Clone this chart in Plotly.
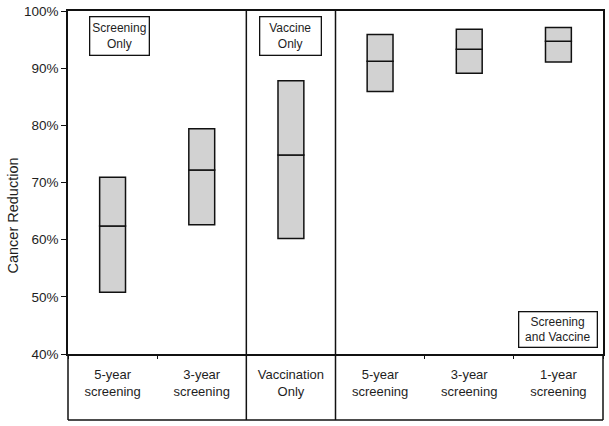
import plotly.graph_objects as go

# ---- data ----
cat_ids = ["s5", "s3", "v", "c5", "c3", "c1"]
cat_labels = ["5-year<br>screening", "3-year<br>screening", "Vaccination<br>Only",
              "5-year<br>screening", "3-year<br>screening", "1-year<br>screening"]
low = [50.8, 62.6, 60.2, 85.9, 89.1, 91.1]
median = [62.4, 72.2, 74.8, 91.2, 93.3, 94.7]
high = [70.9, 79.4, 87.8, 95.9, 96.8, 97.1]
group_boundaries = [1.5, 2.5]  # between category groups
y_ticks = [40, 50, 60, 70, 80, 90, 100]
y_ticklabels = [f"{v}%" for v in y_ticks]

FONT = "Liberation Sans, Arial, sans-serif"
TXT = "#1e1e1e"
LW = 1.5
x_min, x_max = -0.5, len(cat_ids) - 0.5
W, H = 609, 426
ml, mr, mt, mb = 68, 6, 11, 72
plot_h = H - mt - mb
bottom_paper = -(420 - (H - mb)) / plot_h

fig = go.Figure()
fig.add_trace(go.Bar(
    x=cat_ids, base=low, y=[m - l for m, l in zip(median, low)], width=0.29,
    marker=dict(color="#d2d2d2", line=dict(color="#111", width=LW)),
    hoverinfo="skip", showlegend=False))
fig.add_trace(go.Bar(
    x=cat_ids, base=median, y=[h - m for h, m in zip(high, median)], width=0.29,
    marker=dict(color="#d2d2d2", line=dict(color="#111", width=LW)),
    hoverinfo="skip", showlegend=False))

def xp(v):
    return (v - x_min) / (x_max - x_min)

shapes = []
for b in group_boundaries:
    shapes.append(dict(type="line", xref="paper", yref="paper", x0=xp(b), x1=xp(b),
                       y0=bottom_paper, y1=1, line=dict(color="#111", width=LW)))
for xv in (0, 1):
    shapes.append(dict(type="line", xref="paper", yref="paper", x0=xv, x1=xv,
                       y0=bottom_paper, y1=0, line=dict(color="#111", width=LW)))
shapes.append(dict(type="line", xref="paper", yref="paper", x0=0, x1=1,
                   y0=bottom_paper, y1=bottom_paper, line=dict(color="#111", width=LW)))

box_font = dict(family=FONT, size=12, color=TXT)
annotations = [
    dict(x=0.072, y=95.7, xref="x", yref="y", text="Screening<br>Only", showarrow=False,
         font=box_font, bordercolor="#111", borderwidth=1.3, borderpad=1,
         bgcolor="white", width=56, height=35, xanchor="center", yanchor="middle"),
    dict(x=2.0, y=95.7, xref="x", yref="y", text="Vaccine<br>Only", showarrow=False,
         font=box_font, bordercolor="#111", borderwidth=1.3, borderpad=1,
         bgcolor="white", width=58, height=35, xanchor="center", yanchor="middle"),
    dict(x=4.99, y=44.2, xref="x", yref="y", text="Screening<br>and Vaccine", showarrow=False,
         font=box_font, bordercolor="#111", borderwidth=1.3, borderpad=1,
         bgcolor="white", width=75, height=32, xanchor="center", yanchor="middle"),
    dict(x=(12 - ml) / (W - ml - mr), y=((H - mb) - 215.5) / plot_h, xref="paper", yref="paper",
         text="Cancer Reduction", textangle=-90, showarrow=False,
         xanchor="center", yanchor="middle",
         font=dict(family=FONT, size=14.5, color=TXT)),
]

fig.update_layout(
    width=W, height=H, margin=dict(l=ml, r=mr, t=mt, b=mb, autoexpand=False),
    plot_bgcolor="white", paper_bgcolor="white", barmode="overlay",
    shapes=shapes, annotations=annotations, showlegend=False,
    font=dict(family=FONT, color=TXT),
)
fig.update_xaxes(
    type="category", categoryorder="array", categoryarray=cat_ids,
    range=[x_min, x_max], tickmode="array", tickvals=cat_ids, ticktext=cat_labels,
    tickson="boundaries", ticks="outside", ticklen=3, tickwidth=1.2, tickcolor="#111",
    showline=True, mirror=True, linecolor="#111", linewidth=LW, showgrid=False,
    tickfont=dict(family=FONT, size=13, color=TXT), ticklabelstandoff=8, automargin=False,
)
fig.update_yaxes(
    range=[40, 100], tickmode="array", tickvals=y_ticks, ticktext=y_ticklabels,
    ticks="outside", ticklen=5, tickwidth=1.3, tickcolor="#111",
    showline=True, mirror=True, linecolor="#111", linewidth=LW, showgrid=False,
    zeroline=False, tickfont=dict(family=FONT, size=13.5, color=TXT), automargin=False,
)

fig.write_html("out.html", config={"displayModeBar": False},
               post_script="document.body.style.margin='0';")
